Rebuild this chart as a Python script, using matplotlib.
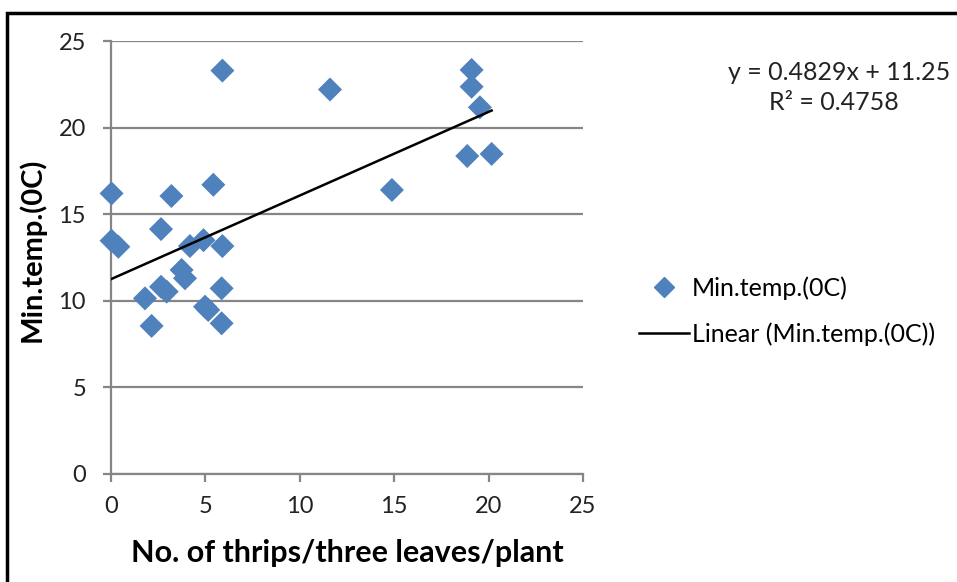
import matplotlib.pyplot as plt
from matplotlib.patches import Rectangle
from matplotlib.lines import Line2D

# Thrips count vs minimum temperature
thrips = [0.03, 0.03, 0.39, 1.80, 2.15, 2.65, 2.65, 2.95, 3.20, 3.74,
          3.92, 4.18, 4.90, 4.98, 5.15, 5.42, 5.90, 5.90, 5.86, 5.86,
          11.60, 14.88, 19.10, 19.10, 19.54, 18.87, 20.16]
min_temp = [16.20, 13.47, 13.12, 10.14, 8.55, 14.14, 10.81, 10.53, 16.05, 11.78,
            11.30, 13.16, 13.50, 9.66, 9.47, 16.70, 23.29, 13.16, 10.72, 8.70,
            22.20, 16.40, 23.33, 22.36, 21.17, 18.36, 18.48]
slope, intercept = 0.4829, 11.25
r_squared = 0.4758
x_ticks = [0, 5, 10, 15, 20, 25]
y_ticks = [0, 5, 10, 15, 20, 25]

plt.rcParams['font.family'] = ['Lato', 'DejaVu Sans']

W, H = 957, 582
fig = plt.figure(figsize=(W / 100, H / 100), dpi=100)
ax = fig.add_axes([111 / W, 1 - 474 / H, (583 - 111) / W, (474 - 41) / H])

blue = "#4F81BD"
grid_c = "#868686"
ax.scatter(thrips, min_temp, marker="D", s=150, color=blue, edgecolors="none",
           zorder=3, clip_on=False)
x0, x1 = 0, max(thrips)
ax.plot([x0, x1], [slope * x0 + intercept, slope * x1 + intercept],
        color="black", lw=1.8, zorder=4)

ax.set_xlim(0, 25)
ax.set_ylim(0, 25)
ax.set_xticks(x_ticks)
ax.set_yticks(y_ticks)
ax.yaxis.grid(True, color=grid_c, lw=1.6)
ax.set_axisbelow(True)
for side in ["top", "right"]:
    ax.spines[side].set_visible(False)
for side in ["left", "bottom"]:
    ax.spines[side].set_color(grid_c)
    ax.spines[side].set_linewidth(1.6)
ax.tick_params(axis="both", colors=grid_c, length=6, width=1.6,
               labelsize=17, labelcolor="#222222")
ax.tick_params(axis="x", pad=10)
ax.tick_params(axis="y", pad=12)

fig.text(347 / W, 1 - 553 / H, "No. of thrips/three leaves/plant",
         ha="center", va="center", fontsize=22, fontweight="bold")
fig.text(32 / W, 1 - 250 / H, "Min.temp.(0C)", ha="center", va="center",
         rotation=90, fontsize=21, fontweight="bold")

fig.text(950 / W, 1 - 73 / H, "y = %.4fx + %.2f" % (slope, intercept),
         ha="right", va="center", fontsize=18, color="#222222")
fig.text(834 / W, 1 - 103 / H, "R² = %.4f" % r_squared,
         ha="center", va="center", fontsize=18, color="#222222")

# legend
handles = [
    Line2D([], [], marker="D", color=blue, linestyle="none", markersize=10),
    Line2D([], [], color="black", lw=1.8),
]
fig.legend(handles, ["Min.temp.(0C)", "Linear (Min.temp.(0C))"],
           loc="center left", bbox_to_anchor=(639 / W, 1 - 311 / H),
           frameon=False, fontsize=18, handlelength=2.0, handletextpad=0.12,
           labelspacing=0.9, borderaxespad=0, borderpad=0)

fig.add_artist(Rectangle((7 / W, -0.1), 1.2, 1 - 13 / H + 0.1,
                         transform=fig.transFigure, fill=False,
                         edgecolor="black", lw=2.5))

fig.savefig("out.png", dpi=100)
